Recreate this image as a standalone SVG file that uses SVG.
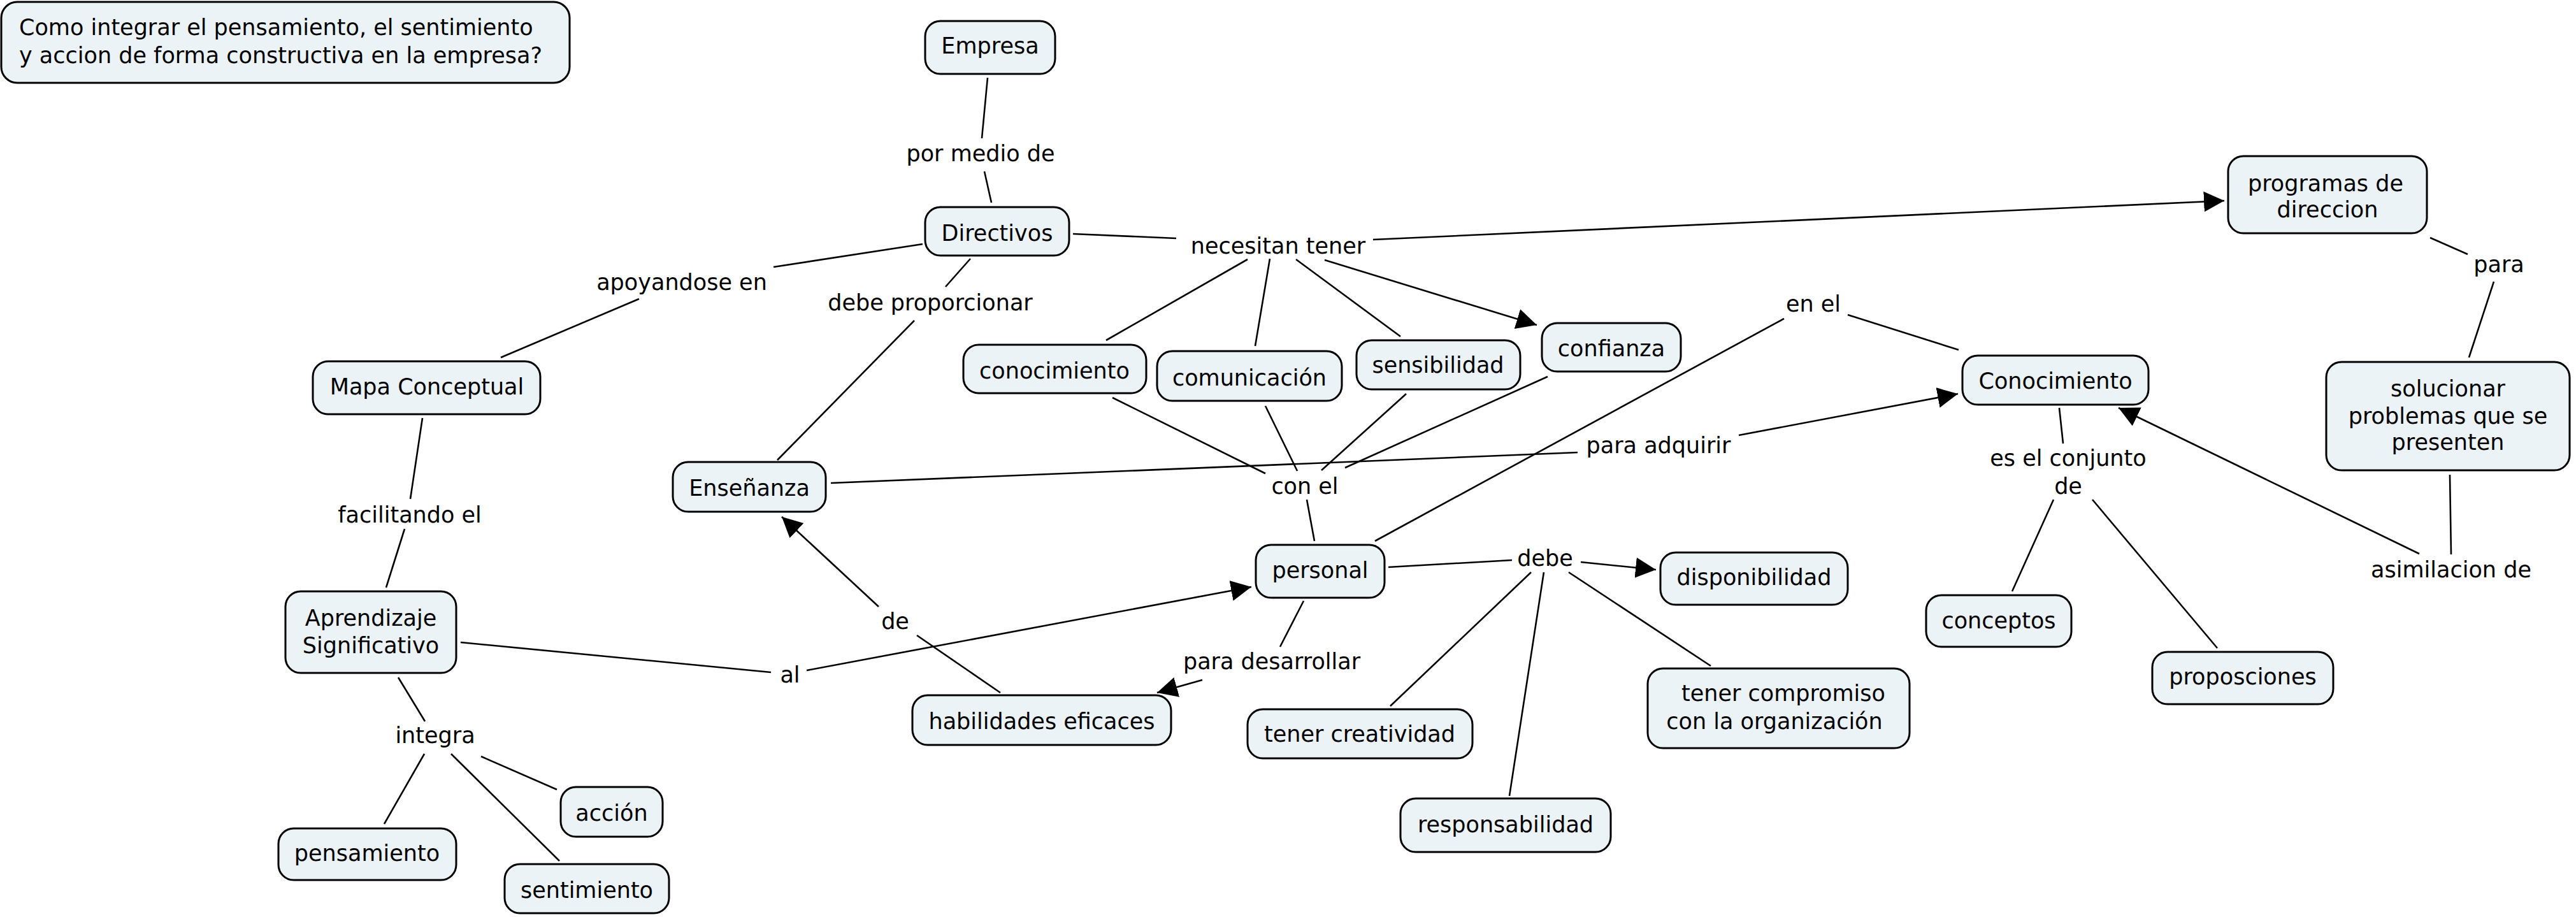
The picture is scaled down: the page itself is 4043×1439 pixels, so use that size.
<svg xmlns="http://www.w3.org/2000/svg" width="4043" height="1439" viewBox="0 0 4043 1439">
<style>
.n rect{fill:#ECF3F6;stroke:#000;stroke-width:3}
text{font-family:"DejaVu Sans","Liberation Sans",sans-serif;font-size:35px;fill:#000}
.n text,.l text{text-anchor:middle}
#conn line{stroke:#000;stroke-width:2.6;fill:none}
#conn line.a{marker-end:url(#arr)}
</style>
<defs>
<marker id="arr" markerWidth="34" markerHeight="34" refX="32" refY="16" orient="auto" markerUnits="userSpaceOnUse"><path d="M0,0 L32,16 L0,32 z" fill="#000"/></marker>
</defs>
<rect width="4043" height="1439" fill="#fff"/>
<g id="conn">
<line x1="1550" y1="122" x2="1541" y2="217"/>
<line x1="1545" y1="269" x2="1556" y2="318"/>
<line x1="1684" y1="367" x2="1846" y2="374"/>
<line class="a" x1="2155" y1="376" x2="3491" y2="315"/>
<line x1="1958" y1="407" x2="1736" y2="534"/>
<line x1="1993" y1="406" x2="1970" y2="543"/>
<line x1="2034" y1="407" x2="2198" y2="528"/>
<line class="a" x1="2079" y1="408" x2="2412" y2="510"/>
<line x1="1448" y1="383" x2="1214" y2="419"/>
<line x1="1003" y1="469" x2="786" y2="561"/>
<line x1="1523" y1="406" x2="1484" y2="450"/>
<line x1="1435" y1="503" x2="1220" y2="722"/>
<line x1="663" y1="656" x2="644" y2="783"/>
<line x1="635" y1="830" x2="606" y2="922"/>
<line x1="723" y1="1008" x2="1210" y2="1055"/>
<line class="a" x1="1266" y1="1052" x2="1964" y2="921"/>
<line x1="625" y1="1063" x2="667" y2="1132"/>
<line x1="666" y1="1183" x2="603" y2="1293"/>
<line x1="708" y1="1183" x2="878" y2="1351"/>
<line x1="755" y1="1187" x2="874" y2="1239"/>
<line x1="1304" y1="758" x2="2476" y2="710"/>
<line class="a" x1="2729" y1="683" x2="3073" y2="618"/>
<line x1="1746" y1="624" x2="1986" y2="743"/>
<line x1="1986" y1="637" x2="2036" y2="739"/>
<line x1="2207" y1="618" x2="2074" y2="738"/>
<line x1="2429" y1="591" x2="2111" y2="734"/>
<line x1="2051" y1="784" x2="2063" y2="849"/>
<line x1="2158" y1="849" x2="2800" y2="500"/>
<line x1="2900" y1="494" x2="3074" y2="549"/>
<line x1="2179" y1="890" x2="2373" y2="879"/>
<line class="a" x1="2481" y1="882" x2="2599" y2="894"/>
<line x1="2403" y1="898" x2="2182" y2="1108"/>
<line x1="2423" y1="898" x2="2369" y2="1249"/>
<line x1="2462" y1="898" x2="2685" y2="1045"/>
<line x1="2046" y1="943" x2="2009" y2="1015"/>
<line class="a" x1="1887" y1="1067" x2="1816" y2="1087"/>
<line x1="1570" y1="1087" x2="1439" y2="997"/>
<line class="a" x1="1379" y1="952" x2="1227" y2="811"/>
<line x1="3232" y1="640" x2="3238" y2="696"/>
<line x1="3223" y1="784" x2="3158" y2="928"/>
<line x1="3284" y1="784" x2="3480" y2="1017"/>
<line x1="3814" y1="373" x2="3873" y2="399"/>
<line x1="3914" y1="442" x2="3875" y2="561"/>
<line x1="3845" y1="745" x2="3847" y2="870"/>
<line class="a" x1="3797" y1="869" x2="3325" y2="640"/>
</g>
<g class="l">
<g id="l-pormedio"><text x="1539" y="253">por medio de</text></g>
<g id="l-necesitan"><text x="2006" y="398">necesitan tener</text></g>
<g id="l-apoyandose"><text x="1070" y="455">apoyandose en</text></g>
<g id="l-debeprop"><text x="1460" y="487">debe proporcionar</text></g>
<g id="l-facilitando"><text x="643" y="820">facilitando el</text></g>
<g id="l-conel"><text x="2048" y="775">con el</text></g>
<g id="l-paraadq"><text x="2603" y="711">para adquirir</text></g>
<g id="l-enel"><text x="2846" y="489">en el</text></g>
<g id="l-para"><text x="3922" y="427">para</text></g>
<g id="l-conjunto"><text x="3246" y="731">es el conjunto</text><text x="3246" y="775">de</text></g>
<g id="l-asimilacion"><text x="3847" y="906">asimilacion de</text></g>
<g id="l-debe"><text x="2425" y="888">debe</text></g>
<g id="l-paradesarrollar"><text x="1996" y="1050">para desarrollar</text></g>
<g id="l-de"><text x="1405" y="987">de</text></g>
<g id="l-al"><text x="1240" y="1071">al</text></g>
<g id="l-integra"><text x="683" y="1166">integra</text></g>
</g>
<g class="n" id="n-title"><rect x="2" y="3" width="892" height="127" rx="25"/><text x="30" y="55" style="text-anchor:start">Como integrar el pensamiento, el sentimiento</text><text x="30" y="99" style="text-anchor:start">y accion de forma constructiva en la empresa?</text></g>
<g class="n" id="n-empresa"><rect x="1452" y="33" width="204" height="83" rx="24"/><text x="1554" y="84">Empresa</text></g>
<g class="n" id="n-directivos"><rect x="1452" y="325" width="226" height="76" rx="24"/><text x="1565" y="378">Directivos</text></g>
<g class="n" id="n-mapa"><rect x="491" y="567" width="357" height="83" rx="24"/><text x="670" y="619">Mapa Conceptual</text></g>
<g class="n" id="n-ensenanza"><rect x="1056" y="725" width="240" height="78" rx="24"/><text x="1176" y="778">Enseñanza</text></g>
<g class="n" id="n-conocimiento1"><rect x="1512" y="541" width="287" height="76" rx="24"/><text x="1655" y="594">conocimiento</text></g>
<g class="n" id="n-comunicacion"><rect x="1816" y="551" width="290" height="78" rx="24"/><text x="1961" y="605">comunicación</text></g>
<g class="n" id="n-sensibilidad"><rect x="2129" y="534" width="257" height="77" rx="24"/><text x="2257" y="585">sensibilidad</text></g>
<g class="n" id="n-confianza"><rect x="2420" y="507" width="218" height="76" rx="24"/><text x="2529" y="559">confianza</text></g>
<g class="n" id="n-programas"><rect x="3497" y="245" width="312" height="121" rx="24"/><text x="3650" y="300">programas de</text><text x="3653" y="341">direccion</text></g>
<g class="n" id="n-conocimiento2"><rect x="3080" y="558" width="292" height="77" rx="24"/><text x="3226" y="610">Conocimiento</text></g>
<g class="n" id="n-solucionar"><rect x="3651" y="568" width="382" height="170" rx="24"/><text x="3842" y="622">solucionar</text><text x="3842" y="665">problemas que se</text><text x="3842" y="706">presenten</text></g>
<g class="n" id="n-aprendizaje"><rect x="448" y="928" width="268" height="128" rx="24"/><text x="582" y="982">Aprendizaje</text><text x="582" y="1025">Significativo</text></g>
<g class="n" id="n-personal"><rect x="1971" y="855" width="202" height="83" rx="24"/><text x="2072" y="907">personal</text></g>
<g class="n" id="n-disponibilidad"><rect x="2606" y="867" width="294" height="82" rx="24"/><text x="2753" y="918">disponibilidad</text></g>
<g class="n" id="n-habilidades"><rect x="1432" y="1091" width="406" height="78" rx="24"/><text x="1635" y="1144">habilidades eficaces</text></g>
<g class="n" id="n-creatividad"><rect x="1958" y="1113" width="353" height="77" rx="24"/><text x="2134" y="1164">tener creatividad</text></g>
<g class="n" id="n-responsabilidad"><rect x="2198" y="1253" width="330" height="84" rx="24"/><text x="2363" y="1306">responsabilidad</text></g>
<g class="n" id="n-compromiso"><rect x="2586" y="1049" width="411" height="125" rx="24"/><text x="2799" y="1100">tener compromiso</text><text x="2785" y="1144">con la organización</text></g>
<g class="n" id="n-conceptos"><rect x="3023" y="934" width="228" height="81" rx="24"/><text x="3137" y="986">conceptos</text></g>
<g class="n" id="n-proposciones"><rect x="3378" y="1023" width="284" height="82" rx="24"/><text x="3520" y="1074">proposciones</text></g>
<g class="n" id="n-accion"><rect x="880" y="1235" width="160" height="78" rx="24"/><text x="960" y="1288">acción</text></g>
<g class="n" id="n-pensamiento"><rect x="437" y="1300" width="279" height="81" rx="24"/><text x="576" y="1351">pensamiento</text></g>
<g class="n" id="n-sentimiento"><rect x="792" y="1356" width="258" height="77" rx="24"/><text x="921" y="1409">sentimiento</text></g>
</svg>
